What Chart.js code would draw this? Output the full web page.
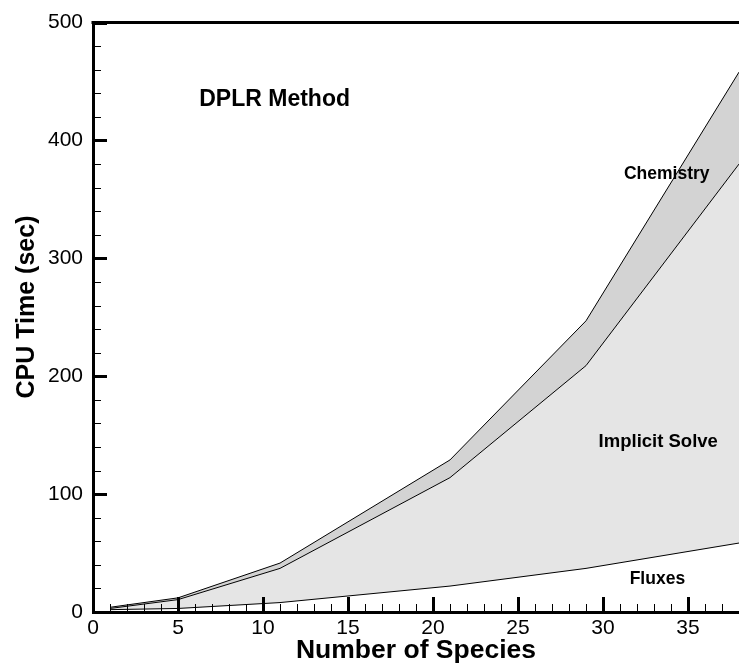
<!DOCTYPE html>
<html lang="en">
<head>
  <meta charset="UTF-8">
  <title>DPLR Method - CPU Time</title>
  <script src="https://cdn.jsdelivr.net/npm/chart.js"></script>
  <style>
    body {
      margin: 0;
      background-color: #fff;
    }
    canvas {
      display: block;
    }
  </style>
</head>
<body>
  <canvas id="cpuChart" width="739" height="667"></canvas>

  <script>
    // data
    const species = [1, 5, 11, 21, 29, 38];
    const fluxes = [2, 3, 8, 22, 37, 58.5];
    const implicitSolve = [3, 10.5, 37, 114, 209, 380];
    const chemistry = [4, 12, 41.5, 129, 247, 458];

    const xTicks = [0, 5, 10, 15, 20, 25, 30, 35];
    const yTicks = [0, 100, 200, 300, 400, 500];

    // labels inside the plot, in data units
    const notes = [
      { text: 'DPLR Method', x: 6.25, y: 435, size: 23, align: 'left' },
      { text: 'Chemistry', x: 33.75, y: 371, size: 17.5, align: 'center' },
      { text: 'Implicit Solve', x: 33.25, y: 144, size: 18.5, align: 'center' },
      { text: 'Fluxes', x: 33.2, y: 28, size: 17.5, align: 'center' }
    ];

    const FONT = "'Liberation Sans', Arial, Helvetica, sans-serif";

    function points(ys) {
      return species.map((x, i) => ({ x: x, y: ys[i] }));
    }

    // inward tick marks, top border, titles and notes
    const decorations = {
      id: 'decorations',
      afterDatasetsDraw(chart) {
        const { ctx, chartArea, scales } = chart;
        const xs = scales.x, ys = scales.y;
        ctx.save();
        ctx.strokeStyle = '#000';

        // x ticks
        for (let v = 0; v <= 38; v++) {
          const px = Math.round(xs.getPixelForValue(v)) + 0.5;
          const major = v % 5 === 0;
          ctx.lineWidth = major ? 3 : 1;
          ctx.beginPath();
          ctx.moveTo(px, chartArea.bottom);
          ctx.lineTo(px, chartArea.bottom - (major ? 15 : 8));
          ctx.stroke();
        }
        // y ticks
        for (let v = 0; v <= 500; v += 20) {
          const py = Math.round(ys.getPixelForValue(v)) + 0.5;
          const major = v % 100 === 0;
          ctx.lineWidth = major ? 3 : 1;
          ctx.beginPath();
          ctx.moveTo(chartArea.left, py);
          ctx.lineTo(chartArea.left + (major ? 14 : 8), py);
          ctx.stroke();
        }

        // top border
        ctx.lineWidth = 3;
        ctx.beginPath();
        ctx.moveTo(chartArea.left - 1.5, chartArea.top);
        ctx.lineTo(chartArea.right, chartArea.top);
        ctx.stroke();

        // notes
        ctx.fillStyle = '#000';
        ctx.textBaseline = 'middle';
        notes.forEach(n => {
          ctx.font = `bold ${n.size}px ${FONT}`;
          ctx.textAlign = n.align;
          ctx.fillText(n.text, xs.getPixelForValue(n.x), ys.getPixelForValue(n.y));
        });

        // axis titles
        ctx.textAlign = 'center';
        ctx.font = `bold 26.5px ${FONT}`;
        ctx.fillText('Number of Species', (chartArea.left + chartArea.right) / 2, 651);

        ctx.font = `bold 25px ${FONT}`;
        ctx.translate(27, 307);
        ctx.rotate(-Math.PI / 2);
        ctx.fillText('CPU Time (sec)', 0, 0);
        ctx.restore();
      }
    };

    const ctx = document.getElementById('cpuChart').getContext('2d');
    const cpuChart = new Chart(ctx, {
      type: 'line',
      data: {
        datasets: [
          {
            label: 'Fluxes',
            data: points(fluxes),
            borderColor: '#000',
            borderWidth: 1,
            pointRadius: 0,
            fill: false
          },
          {
            label: 'Implicit Solve',
            data: points(implicitSolve),
            borderColor: '#000',
            borderWidth: 1,
            pointRadius: 0,
            backgroundColor: '#e5e5e5',
            fill: '-1'
          },
          {
            label: 'Chemistry',
            data: points(chemistry),
            borderColor: '#000',
            borderWidth: 1,
            pointRadius: 0,
            backgroundColor: '#d3d3d3',
            fill: '-1'
          }
        ]
      },
      options: {
        responsive: false,
        animation: false,
        layout: { padding: { top: 20, right: 0, left: 0, bottom: 0 } },
        plugins: {
          legend: { display: false },
          tooltip: { enabled: false }
        },
        scales: {
          x: {
            type: 'linear',
            min: 0,
            max: 38,
            afterFit: s => { s.height = 55; },
            afterBuildTicks: s => { s.ticks = xTicks.map(v => ({ value: v })); },
            grid: { drawOnChartArea: false, drawTicks: false },
            border: { color: '#000', width: 3 },
            ticks: {
              padding: 4,
              maxRotation: 0,
              color: '#000',
              font: { family: FONT, size: 21 }
            }
          },
          y: {
            min: 0,
            max: 500,
            afterFit: s => { s.width = 93; },
            afterBuildTicks: s => { s.ticks = yTicks.map(v => ({ value: v })); },
            grid: { drawOnChartArea: false, drawTicks: false },
            border: { color: '#000', width: 3 },
            ticks: {
              padding: 10,
              color: '#000',
              font: { family: FONT, size: 21 }
            }
          }
        }
      },
      plugins: [decorations]
    });
  </script>
</body>
</html>
